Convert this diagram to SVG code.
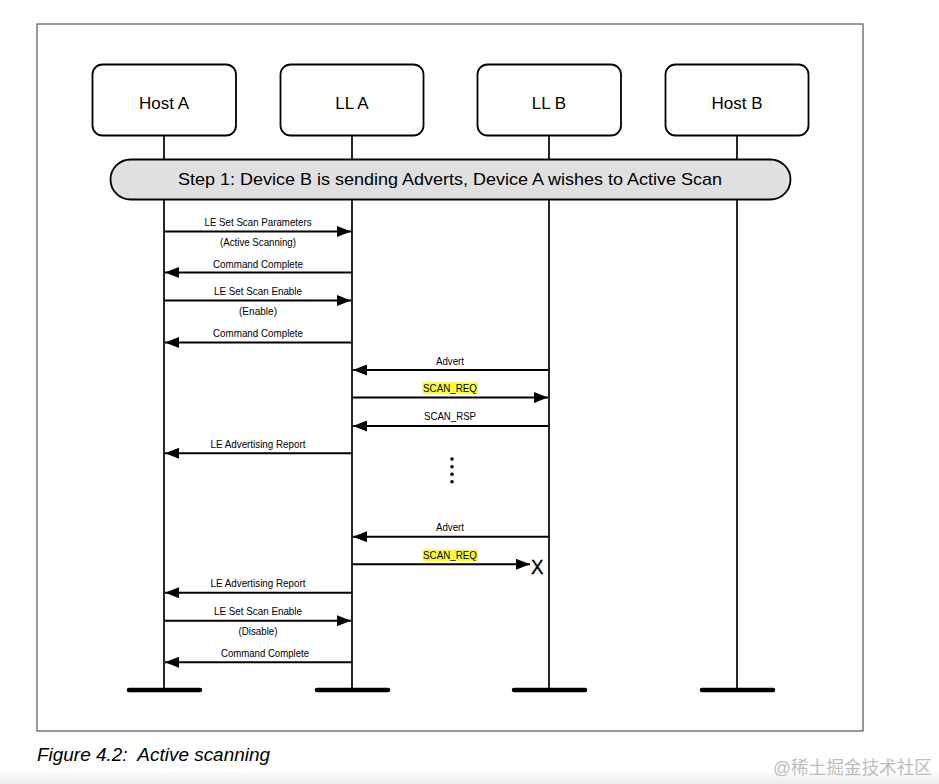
<svg xmlns="http://www.w3.org/2000/svg" width="939" height="784" viewBox="0 0 939 784">
<style>
.box{fill:#fff;stroke:#000;stroke-width:1.8}
.life{stroke:#000;stroke-width:1.7;fill:none}
.end{stroke:#000;stroke-width:4.5;stroke-linecap:round}
.msg{stroke:#000;stroke-width:2;fill:none}
.big{font-family:"Liberation Sans",Arial,sans-serif;font-size:17px;text-anchor:middle;fill:#000}
.sm{font-family:"Liberation Sans",Arial,sans-serif;font-size:11px;text-anchor:middle;fill:#000}
.hl{fill:#fafa3c}
</style>
<defs>
<marker id="ah" viewBox="0 0 14 11" refX="14" refY="5.5" markerWidth="14" markerHeight="11" markerUnits="userSpaceOnUse" orient="auto">
<path d="M0,0 L14,5.5 L0,11 Z" fill="#000"/>
</marker>
<linearGradient id="bg" x1="0" y1="0" x2="0" y2="1">
<stop offset="0" stop-color="#ffffff"/>
<stop offset="1" stop-color="#ececec"/>
</linearGradient>
</defs>
<rect x="0" y="0" width="939" height="784" fill="#fff"/>
<rect x="0" y="770" width="939" height="14" fill="url(#bg)"/>
<rect x="37" y="24" width="826" height="707" fill="#fff" stroke="#555" stroke-width="1.2"/>

<g id="lifelines">
<line class="life" x1="164" y1="135" x2="164" y2="690"/>
<line class="life" x1="352" y1="135" x2="352" y2="690"/>
<line class="life" x1="549" y1="135" x2="549" y2="690"/>
<line class="life" x1="737" y1="135" x2="737" y2="690"/>
<line class="end" x1="129" y1="690" x2="200" y2="690"/>
<line class="end" x1="317" y1="690" x2="388" y2="690"/>
<line class="end" x1="514" y1="690" x2="585" y2="690"/>
<line class="end" x1="702" y1="690" x2="773" y2="690"/>
</g>

<g id="host-a"><rect class="box" x="92.5" y="64.5" width="143.5" height="71" rx="10"/><text class="big" x="164" y="109">Host A</text></g>
<g id="ll-a"><rect class="box" x="280.5" y="64.5" width="143" height="71" rx="10"/><text class="big" x="352" y="109">LL A</text></g>
<g id="ll-b"><rect class="box" x="477.5" y="64.5" width="143.5" height="71" rx="10"/><text class="big" x="549" y="109">LL B</text></g>
<g id="host-b"><rect class="box" x="665.5" y="64.5" width="143" height="71" rx="10"/><text class="big" x="737" y="109">Host B</text></g>

<g id="step1"><rect x="110.5" y="159.5" width="680" height="40" rx="20" fill="#e0e0e0" stroke="#000" stroke-width="1.8"/><text class="big" x="450" y="185" textLength="544" lengthAdjust="spacingAndGlyphs">Step 1: Device B is sending Adverts, Device A wishes to Active Scan</text></g>

<g id="connectors">
<line class="msg" x1="164" y1="231.5" x2="351" y2="231.5" marker-end="url(#ah)"/>
<line class="msg" x1="352" y1="272.5" x2="165" y2="272.5" marker-end="url(#ah)"/>
<line class="msg" x1="164" y1="300.5" x2="351" y2="300.5" marker-end="url(#ah)"/>
<line class="msg" x1="352" y1="342.5" x2="165" y2="342.5" marker-end="url(#ah)"/>
<line class="msg" x1="549" y1="370" x2="353" y2="370" marker-end="url(#ah)"/>
<line class="msg" x1="352" y1="397.5" x2="548" y2="397.5" marker-end="url(#ah)"/>
<line class="msg" x1="549" y1="426" x2="353" y2="426" marker-end="url(#ah)"/>
<line class="msg" x1="352" y1="453.3" x2="165" y2="453.3" marker-end="url(#ah)"/>
<line class="msg" x1="549" y1="536.7" x2="353" y2="536.7" marker-end="url(#ah)"/>
<line class="msg" x1="352" y1="564.3" x2="530" y2="564.3" marker-end="url(#ah)"/>
<line class="msg" x1="352" y1="592.7" x2="165" y2="592.7" marker-end="url(#ah)"/>
<line class="msg" x1="164" y1="620.7" x2="351" y2="620.7" marker-end="url(#ah)"/>
<line class="msg" x1="352" y1="662.3" x2="165" y2="662.3" marker-end="url(#ah)"/>
</g>

<g id="labels">
<text class="sm" x="258" y="226" textLength="107" lengthAdjust="spacingAndGlyphs">LE Set Scan Parameters</text>
<text class="sm" x="258" y="246" textLength="76" lengthAdjust="spacingAndGlyphs">(Active Scanning)</text>
<text class="sm" x="258" y="268" textLength="90" lengthAdjust="spacingAndGlyphs">Command Complete</text>
<text class="sm" x="258" y="295" textLength="88" lengthAdjust="spacingAndGlyphs">LE Set Scan Enable</text>
<text class="sm" x="258" y="315" textLength="38" lengthAdjust="spacingAndGlyphs">(Enable)</text>
<text class="sm" x="258" y="337" textLength="90" lengthAdjust="spacingAndGlyphs">Command Complete</text>
<text class="sm" x="450" y="365" textLength="28" lengthAdjust="spacingAndGlyphs">Advert</text>
<rect class="hl" x="422.5" y="382" width="55.5" height="12"/>
<text class="sm" x="450" y="392" textLength="54" lengthAdjust="spacingAndGlyphs">SCAN_REQ</text>
<text class="sm" x="450" y="420" textLength="52" lengthAdjust="spacingAndGlyphs">SCAN_RSP</text>
<text class="sm" x="258" y="448" textLength="95" lengthAdjust="spacingAndGlyphs">LE Advertising Report</text>
<circle cx="452" cy="459" r="1.8"/>
<circle cx="452" cy="466.7" r="1.8"/>
<circle cx="452" cy="474.3" r="1.8"/>
<circle cx="452" cy="481.7" r="1.8"/>
<text class="sm" x="450" y="531" textLength="28" lengthAdjust="spacingAndGlyphs">Advert</text>
<rect class="hl" x="422.5" y="549.5" width="55.5" height="11.5"/>
<text class="sm" x="450" y="559" textLength="54" lengthAdjust="spacingAndGlyphs">SCAN_REQ</text>
<text x="531" y="573.5" font-family="'Liberation Sans',Arial,sans-serif" font-size="21" stroke="#000" stroke-width="0.4" textLength="12.5" lengthAdjust="spacingAndGlyphs">X</text>
<text class="sm" x="258" y="587" textLength="95" lengthAdjust="spacingAndGlyphs">LE Advertising Report</text>
<text class="sm" x="258" y="615" textLength="88" lengthAdjust="spacingAndGlyphs">LE Set Scan Enable</text>
<text class="sm" x="258" y="635" textLength="39" lengthAdjust="spacingAndGlyphs">(Disable)</text>
<text class="sm" x="265" y="657" textLength="88" lengthAdjust="spacingAndGlyphs">Command Complete</text>
</g>

<text x="37" y="761" style="white-space:pre" xml:space="preserve" font-family="'Liberation Sans',Arial,sans-serif" font-style="italic" font-size="18.5" textLength="233" lengthAdjust="spacingAndGlyphs">Figure 4.2:  Active scanning</text>
<text x="773" y="774" font-family="'Liberation Sans','Noto Sans CJK SC',sans-serif" font-size="18" fill="#bdbdbd" textLength="159" lengthAdjust="spacingAndGlyphs">@稀土掘金技术社区</text>
</svg>
